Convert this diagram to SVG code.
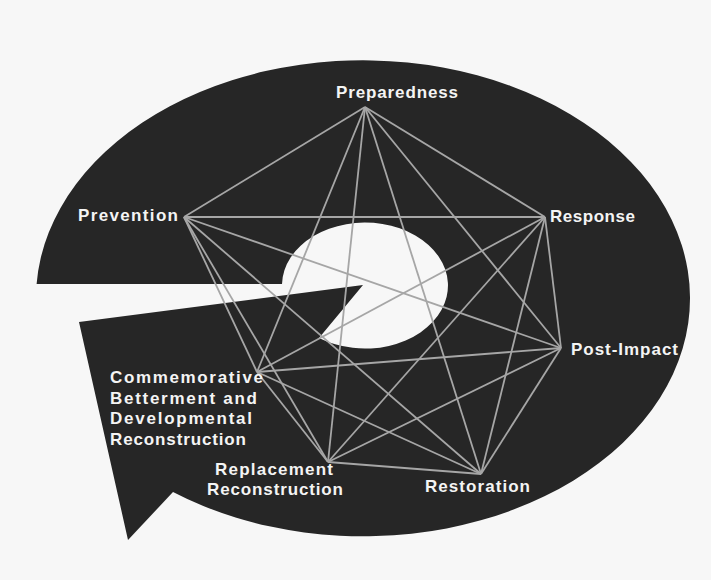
<svg xmlns="http://www.w3.org/2000/svg" width="711" height="580" viewBox="0 0 711 580">
<style>
.lbl{font-family:"Liberation Sans",Arial,sans-serif;font-weight:700;font-size:17px;fill:#f4f4f4}
.edge{stroke:#a6a6a6;stroke-width:1.8;fill:none}
</style>
<rect width="711" height="580" fill="#f7f7f7"/>
<path id="backdrop" d="M 36.6 284 A 327 238 0 1 1 173 492 L 128 540 L 79 322 L 363 285 L 319 338 A 83 63 0 1 0 282 284 Z" fill="#262626"/>
<g id="connectors" class="edge">
<line x1="365" y1="107" x2="545" y2="217"/>
<line x1="365" y1="107" x2="561" y2="348"/>
<line x1="365" y1="107" x2="481" y2="474"/>
<line x1="365" y1="107" x2="328" y2="462"/>
<line x1="365" y1="107" x2="257" y2="372"/>
<line x1="365" y1="107" x2="184" y2="217"/>
<line x1="545" y1="217" x2="561" y2="348"/>
<line x1="545" y1="217" x2="481" y2="474"/>
<line x1="545" y1="217" x2="328" y2="462"/>
<line x1="545" y1="217" x2="257" y2="372"/>
<line x1="545" y1="217" x2="184" y2="217"/>
<line x1="561" y1="348" x2="481" y2="474"/>
<line x1="561" y1="348" x2="328" y2="462"/>
<line x1="561" y1="348" x2="257" y2="372"/>
<line x1="561" y1="348" x2="184" y2="217"/>
<line x1="481" y1="474" x2="328" y2="462"/>
<line x1="481" y1="474" x2="257" y2="372"/>
<line x1="481" y1="474" x2="184" y2="217"/>
<line x1="328" y1="462" x2="257" y2="372"/>
<line x1="328" y1="462" x2="184" y2="217"/>
<line x1="257" y1="372" x2="184" y2="217"/>
</g>
<g id="preparedness"><text class="lbl" x="336" y="98" textLength="122">Preparedness</text></g>
<g id="response"><text class="lbl" x="550" y="222" textLength="85">Response</text></g>
<g id="post-impact"><text class="lbl" x="571" y="355" textLength="107">Post-Impact</text></g>
<g id="restoration"><text class="lbl" x="425" y="492" textLength="105">Restoration</text></g>
<g id="replacement"><text class="lbl" x="215" y="475" textLength="118">Replacement</text><text class="lbl" x="207" y="495" textLength="136">Reconstruction</text></g>
<g id="commemorative"><text class="lbl" x="110" y="383" textLength="153">Commemorative</text><text class="lbl" x="110" y="404" textLength="147">Betterment and</text><text class="lbl" x="110" y="424" textLength="142">Developmental</text><text class="lbl" x="110" y="445" textLength="136">Reconstruction</text></g>
<g id="prevention"><text class="lbl" x="78" y="221" textLength="100">Prevention</text></g>
</svg>
